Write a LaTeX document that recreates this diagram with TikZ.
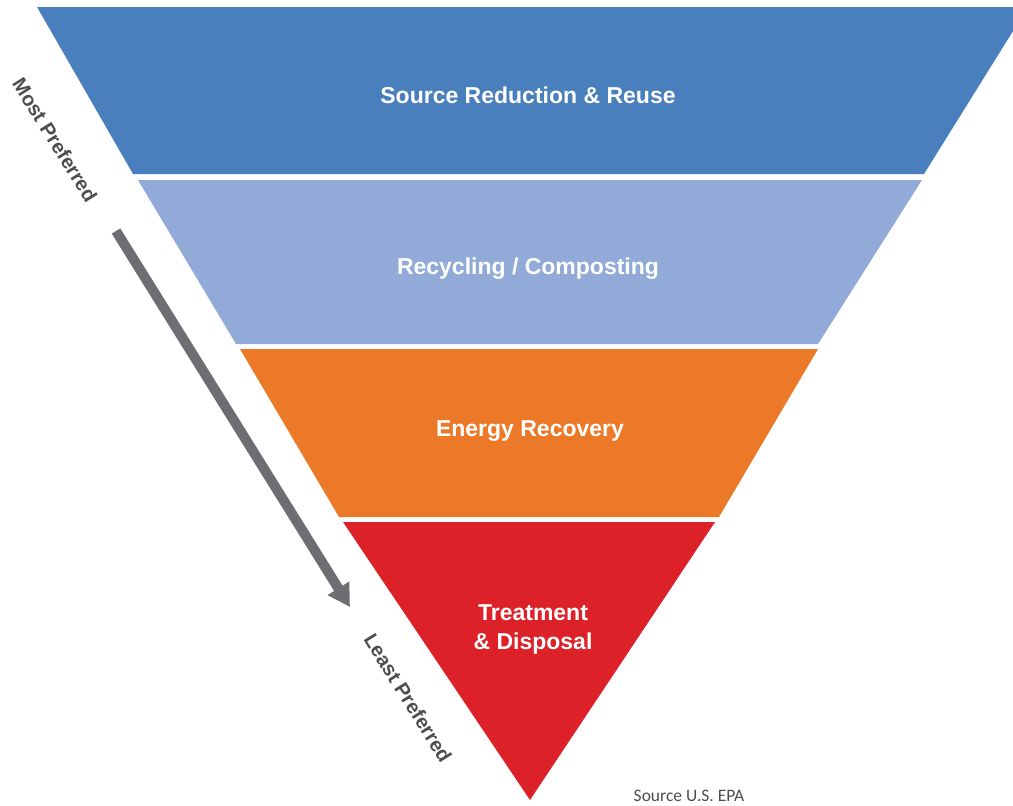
\documentclass[tikz,border=0pt]{standalone}
\usepackage{fontspec}
\setmainfont{Liberation Sans}
\newfontfamily\notefont{Carlito}
\usetikzlibrary{arrows.meta}
\definecolor{reuseblue}{HTML}{4A7FBE}
\definecolor{recycleblue}{HTML}{91AAD7}
\definecolor{energyorange}{HTML}{EB7928}
\definecolor{disposalred}{HTML}{DC2228}
\definecolor{arrowgray}{HTML}{6D6E71}
\definecolor{sidegray}{HTML}{4D4D4D}
\begin{document}
\begin{tikzpicture}[x=1pt, y=-1pt,
    level/.style={text=white, align=center, font=\fontsize{23}{29}\selectfont\bfseries},
    side/.style={text=sidegray, rotate=-58, font=\fontsize{20}{24}\selectfont\bfseries}]
    \clip (0,0) rectangle (1013,806);
    \fill[reuseblue]    (37,7)   -- (1028,7)  -- (924,174) -- (133,174) -- cycle;
    \fill[recycleblue]  (138,180) -- (922,180) -- (818,344) -- (236,344) -- cycle;
    \fill[energyorange] (240,349) -- (818,349) -- (719,517) -- (339,517) -- cycle;
    \fill[disposalred]  (343,522) -- (715,522) -- (530,800) -- cycle;
    %
    \node[level] (reuse)    at (528,95)  {Source Reduction \& Reuse};
    \node[level] (recycle)  at (528,269) {Recycling / Composting};
    \node[level] (energy)   at (530,431) {Energy Recovery};
    \node[level] (disposal) at (533,629) {Treatment\\\& Disposal};
    %
    \node[side] (most)  at (55,140)  {Most Preferred};
    \node[side] (least) at (408,698) {Least Preferred};
    \coordinate (arrow top) at (116,231);
    \coordinate (arrow tip) at (350,607);
    \draw[arrowgray, line width=10pt, -{Triangle[width=24pt,length=22pt]}] (arrow top) -- (arrow tip);
    %
    \node[text=sidegray, font=\notefont\fontsize{17.5}{20}\selectfont] (source) at (689,796) {Source U.S. EPA};
\end{tikzpicture}
\end{document}
